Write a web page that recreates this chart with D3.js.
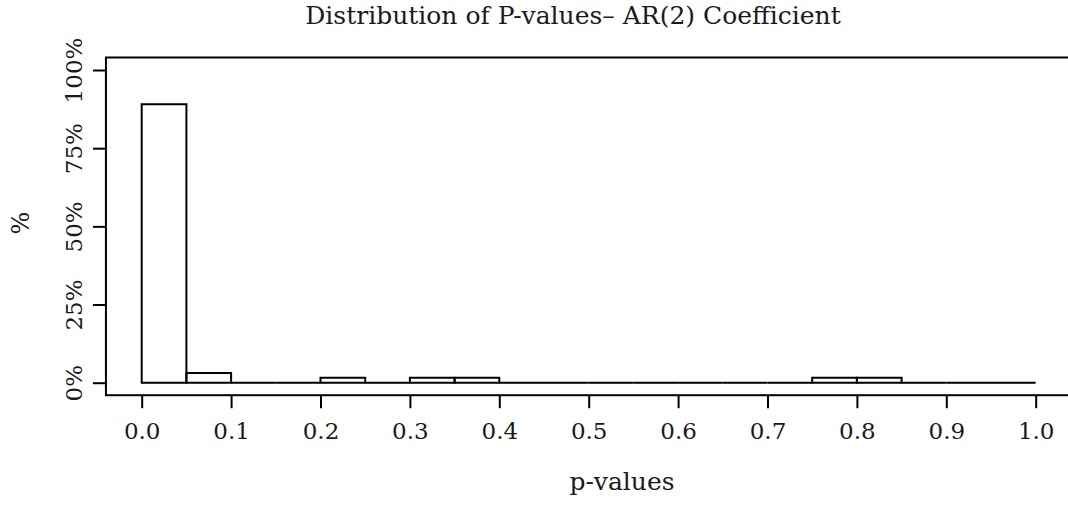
<!DOCTYPE html>
<html>
<head>
<meta charset="utf-8">
<script src="https://cdn.jsdelivr.net/npm/d3@7"></script>
<style>
    body { margin: 0; background: #fff; }
    svg text { font-family: "DejaVu Serif", "Liberation Serif", serif; fill: #1a1a1a; }
</style>
</head>
<body>
<svg id="chart" width="1068" height="506"></svg>
<script>
    // histogram bins of width 0.05, share of p-values in each (%)
    var binStarts = [0.00, 0.05, 0.10, 0.15, 0.20, 0.25, 0.30, 0.35, 0.40, 0.45,
                     0.50, 0.55, 0.60, 0.65, 0.70, 0.75, 0.80, 0.85, 0.90, 0.95];
    var binPercent = [89.0625, 3.125, 0, 0, 1.5625, 0, 1.5625, 1.5625, 0, 0,
                      0, 0, 0, 0, 0, 1.5625, 1.5625, 0, 0, 0];
    var binWidth = 0.05;
    var xTicks = [0, 0.1, 0.2, 0.3, 0.4, 0.5, 0.6, 0.7, 0.8, 0.9, 1.0];
    var yTicks = [0, 25, 50, 75, 100];

    var svg = d3.select('#chart');

    var x = d3.scaleLinear().domain([0, 1]).range([141.7, 1035.7]);
    var y = d3.scaleLinear().domain([0, 100]).range([382.7, 70]);

    // plot region like R's usr, 4% padding each side
    var x0 = x(-0.04), x1 = x(1.04);
    var y0 = y(-4), y1 = y(104);

    var bars = binStarts.map(function(s, i){
        return {x0: s, x1: s + binWidth, value: binPercent[i]};
    });

    // paths, so empty bins still draw a flat line at 0
    svg.append('g').selectAll('path')
        .data(bars)
        .enter().append('path')
        .attr('d', function(d){
            var l = x(d.x0), r = x(d.x1), t = y(d.value), b = y(0);
            return 'M' + l + ',' + b + 'L' + l + ',' + t + 'L' + r + ',' + t + 'L' + r + ',' + b + 'Z';
        })
        .attr('fill', 'none')
        .attr('stroke', '#000')
        .attr('stroke-width', 2);

    // box
    svg.append('rect')
        .attr('x', x0).attr('y', y1)
        .attr('width', x1 - x0).attr('height', y0 - y1)
        .attr('fill', 'none')
        .attr('stroke', '#000')
        .attr('stroke-width', 2);

    var xAxis = d3.axisBottom(x)
        .tickValues(xTicks)
        .tickSize(13)
        .tickFormat(d3.format('.1f'));

    var gx = svg.append('g')
        .attr('transform', 'translate(0,' + y0 + ')')
        .call(xAxis);
    gx.select('.domain').remove();
    gx.selectAll('line').attr('stroke', '#000').attr('stroke-width', 2);
    gx.selectAll('text').attr('font-size', 23).attr('fill', '#1a1a1a')
        .attr('dy', null).attr('y', 44);

    var yAxis = d3.axisLeft(y)
        .tickValues(yTicks)
        .tickSize(13)
        .tickFormat(function(d){ return d + '%'; });

    var gy = svg.append('g')
        .attr('transform', 'translate(' + x0 + ',0)')
        .call(yAxis);
    gy.select('.domain').remove();
    gy.selectAll('line').attr('stroke', '#000').attr('stroke-width', 2);
    gy.selectAll('text')
        .attr('font-size', 23)
        .attr('fill', '#1a1a1a')
        .attr('x', null).attr('dy', null)
        .attr('text-anchor', 'middle')
        .attr('transform', 'translate(-24,0) rotate(-90)');

    svg.append('text')
        .attr('x', 573).attr('y', 24)
        .attr('text-anchor', 'middle')
        .attr('font-size', 25)
        .text('Distribution of P-values\u2013 AR(2) Coefficient');

    svg.append('text')
        .attr('x', 622).attr('y', 490)
        .attr('text-anchor', 'middle')
        .attr('font-size', 25)
        .text('p-values');

    svg.append('text')
        .attr('transform', 'translate(29,223) rotate(-90)')
        .attr('text-anchor', 'middle')
        .attr('font-size', 24)
        .text('%');
</script>
</body>
</html>
